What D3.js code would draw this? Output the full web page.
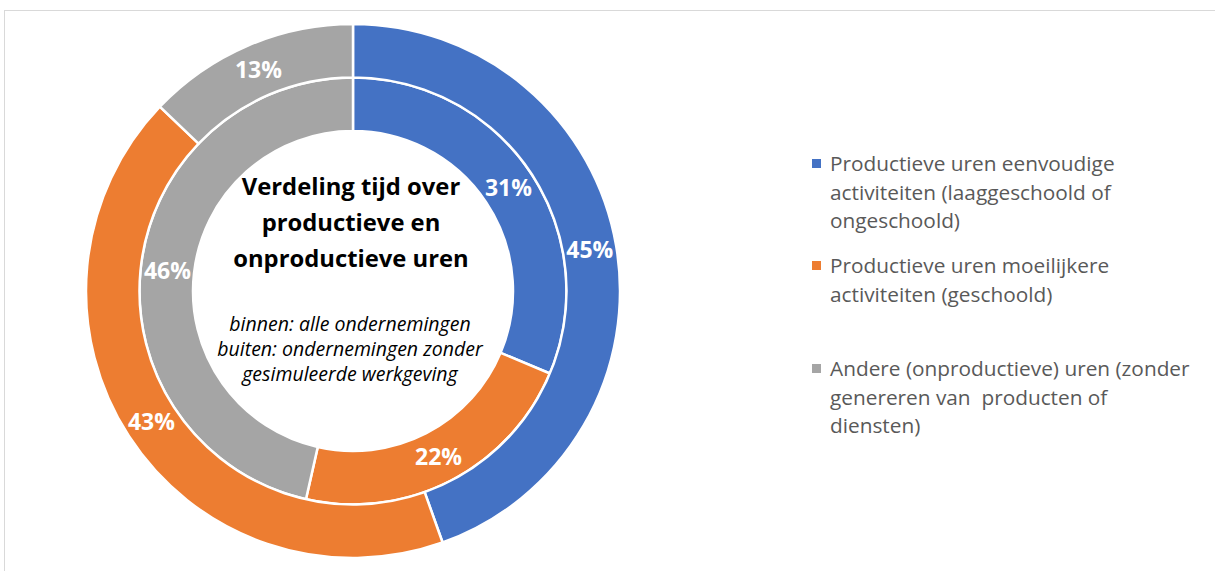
<!DOCTYPE html>
<html><head><meta charset="utf-8">
<script src="https://cdn.jsdelivr.net/npm/d3@7"></script>
<style>html,body{margin:0;padding:0;background:#fff;overflow:hidden} text{white-space:pre}</style>
</head><body>
<svg id="chart" width="1215" height="571"></svg>
<script>
const categories = [
  "Productieve uren eenvoudige activiteiten (laaggeschoold of ongeschoold)",
  "Productieve uren moeilijkere activiteiten (geschoold)",
  "Andere (onproductieve) uren (zonder genereren van  producten of diensten)"
];
const innerValues = [31, 22, 46];   // binnen: alle ondernemingen
const outerValues = [45, 43, 13];   // buiten: ondernemingen zonder gesimuleerde werkgeving
const colors = ["#4472C4", "#ED7D31", "#A5A5A5"];
const legendLines = [
  ["Productieve uren eenvoudige", "activiteiten (laaggeschoold of", "ongeschoold)"],
  ["Productieve uren moeilijkere", "activiteiten (geschoold)"],
  ["Andere (onproductieve) uren (zonder", "genereren van  producten of", "diensten)"]
];
const titleLines = ["Verdeling tijd over", "productieve en", "onproductieve uren"];
const subtitleLines = ["binnen: alle ondernemingen", "buiten: ondernemingen zonder", "gesimuleerde werkgeving"];

const svg = d3.select("#chart");
const font = "'Open Sans', sans-serif";

svg.append("rect").attr("x", 4.5).attr("y", 10.5).attr("width", 1300).attr("height", 700)
  .attr("fill", "#fff").attr("stroke", "#d9d9d9").attr("stroke-width", 1);

const cx = 353, cy = 291;
const R = 267, r0 = 160, rMid = (R + r0) / 2;
const g = svg.append("g").attr("transform", `translate(${cx},${cy})`);
const pie = d3.pie().sort(null).value(d => d);

function ring(values, ri, ro, cls) {
  const arc = d3.arc().innerRadius(ri).outerRadius(ro);
  const arcs = pie(values);
  const gg = g.append("g").attr("class", cls);
  gg.selectAll("path").data(arcs).join("path")
    .attr("d", arc).attr("fill", (d, i) => colors[i])
    .attr("stroke", "#fff").attr("stroke-width", 2.5);
  gg.selectAll("text").data(arcs).join("text")
    .attr("transform", d => `translate(${arc.centroid(d)})`)
    .attr("text-anchor", "middle").attr("dy", "0.36em")
    .attr("fill", "#fff").attr("font-family", font).attr("font-weight", "bold")
    .attr("font-size", 23).text(d => d.data + "%");
}
ring(innerValues, r0, rMid, "inner");
ring(outerValues, rMid, R, "outer");

const t = svg.append("g");
t.selectAll("text.title").data(titleLines).join("text").attr("class", "title")
  .attr("x", cx - 2).attr("y", (d, i) => 195 + i * 36)
  .attr("text-anchor", "middle").attr("font-family", font).attr("font-weight", "bold")
  .attr("font-size", 23.8).attr("fill", "#000").text(d => d);
t.selectAll("text.sub").data(subtitleLines).join("text").attr("class", "sub")
  .attr("x", cx - 3).attr("y", (d, i) => 331 + i * 25)
  .attr("text-anchor", "middle").attr("font-family", font).attr("font-style", "italic")
  .attr("font-size", 19.5).attr("fill", "#000").text(d => d);

const legendTop = [171, 273, 376];
const lg = svg.append("g");
categories.forEach((c, i) => {
  lg.append("rect").attr("x", 812).attr("y", legendTop[i] - 12).attr("width", 9).attr("height", 9)
    .attr("fill", colors[i]);
  legendLines[i].forEach((line, j) => {
    lg.append("text").attr("x", 830).attr("y", legendTop[i] + j * 28.5)
      .attr("font-family", font).attr("font-size", 20.8).attr("fill", "#595959").text(line);
  });
});
</script>
</body></html>
